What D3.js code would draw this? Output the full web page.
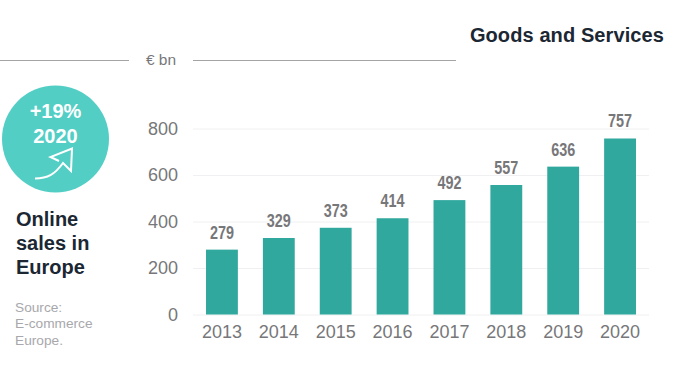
<!DOCTYPE html>
<html>
<head>
<meta charset="utf-8">
<script src="https://cdn.jsdelivr.net/npm/d3@7"></script>
<style>
  html, body { margin: 0; padding: 0; background: #fff; }
  text { font-family: "Liberation Sans", Arial, sans-serif; }
</style>
</head>
<body>
<div id="chart"></div>
<script>
// Data
const years = ["2013", "2014", "2015", "2016", "2017", "2018", "2019", "2020"];
const sales = [279, 329, 373, 414, 492, 557, 636, 757];
const yTicks = [0, 200, 400, 600, 800];
const titleLines = ["Online", "sales in", "Europe"];
const sourceLines = ["Source:", "E-commerce", "Europe."];
const badgeLines = ["+19%", "2020"];

const width = 673;
const height = 368;

const svg = d3.select("#chart")
    .append("svg")
    .attr("width", width)
    .attr("height", height)
    .style("display", "block");

// Scales
const x = d3.scaleBand()
    .domain(years)
    .range([193.5, 648.5])
    .paddingInner(0.44)
    .paddingOuter(0.22);

const y = d3.scaleLinear()
    .domain([0, 800])
    .range([314.5, 128.5]);

// Header
svg.append("text")
    .attr("x", 664)
    .attr("y", 42)
    .attr("text-anchor", "end")
    .attr("font-size", 20)
    .attr("font-weight", "bold")
    .attr("letter-spacing", 0.1)
    .attr("fill", "#1b2733")
    .text("Goods and Services");

svg.append("line")
    .attr("x1", 0).attr("x2", 129)
    .attr("y1", 60.5).attr("y2", 60.5)
    .attr("stroke", "#a3a3a3");

svg.append("line")
    .attr("x1", 193).attr("x2", 456)
    .attr("y1", 60.5).attr("y2", 60.5)
    .attr("stroke", "#a3a3a3");

svg.append("text")
    .attr("x", 161)
    .attr("y", 65)
    .attr("text-anchor", "middle")
    .attr("font-size", 15.5)
    .attr("fill", "#77777a")
    .text("€ bn");

// Gridlines and axes
const yAxis = svg.append("g")
    .attr("transform", "translate(193,0)")
    .call(d3.axisLeft(y).tickValues(yTicks).tickSize(-456).tickPadding(15).tickFormat(d3.format("d")));
yAxis.select(".domain").remove();
yAxis.selectAll("line").attr("stroke", "#f0f0f2");
yAxis.selectAll("text")
    .attr("font-size", 18)
    .attr("font-family", "Liberation Sans")
    .attr("fill", "#77777a");

const xAxis = svg.append("g")
    .attr("transform", "translate(0,314.5)")
    .call(d3.axisBottom(x).tickSize(0).tickPadding(11));
xAxis.select(".domain").remove();
xAxis.selectAll("text")
    .attr("font-size", 18)
    .attr("font-family", "Liberation Sans")
    .attr("fill", "#77777a");

// Bars
svg.selectAll("rect.bar")
    .data(years)
    .enter()
    .append("rect")
    .attr("class", "bar")
    .attr("x", d => x(d))
    .attr("y", (d, i) => y(sales[i]))
    .attr("width", x.bandwidth())
    .attr("height", (d, i) => y(0) - y(sales[i]))
    .attr("fill", "#31a89e");

// Value labels, squeezed because the original face is condensed
svg.selectAll("text.value")
    .data(years)
    .enter()
    .append("text")
    .attr("class", "value")
    .attr("x", d => x(d) + x.bandwidth() / 2)
    .attr("y", (d, i) => y(sales[i]) - 11)
    .attr("text-anchor", "middle")
    .attr("font-size", 18)
    .attr("font-weight", "bold")
    .attr("textLength", 24)
    .attr("lengthAdjust", "spacingAndGlyphs")
    .attr("fill", "#77777a")
    .text((d, i) => sales[i]);

// Badge
svg.append("circle")
    .attr("cx", 55.5)
    .attr("cy", 139)
    .attr("r", 53.5)
    .attr("fill", "#52cec5");

svg.selectAll("text.badge")
    .data(badgeLines)
    .enter()
    .append("text")
    .attr("class", "badge")
    .attr("x", 55.5)
    .attr("y", (d, i) => 118 + i * 25)
    .attr("text-anchor", "middle")
    .attr("font-size", 20)
    .attr("font-weight", "bold")
    .attr("fill", "#fff")
    .text(d => d);

svg.append("path")
    .attr("d", "M35 178.5 C48 178.5 55 174 63 163 L71 171 L72 148.5 L50.5 157 L59 161")
    .attr("fill", "none")
    .attr("stroke", "#fff")
    .attr("stroke-width", 2);

// Title and source
svg.selectAll("text.title")
    .data(titleLines)
    .enter()
    .append("text")
    .attr("class", "title")
    .attr("x", 16)
    .attr("y", (d, i) => 226 + i * 24)
    .attr("font-size", 20)
    .attr("font-weight", "bold")
    .attr("fill", "#1b2733")
    .text(d => d);

svg.selectAll("text.source")
    .data(sourceLines)
    .enter()
    .append("text")
    .attr("class", "source")
    .attr("x", 15)
    .attr("y", (d, i) => 312 + i * 16.3)
    .attr("font-size", 13.7)
    .attr("fill", "#a8a8ac")
    .text(d => d);
</script>
</body>
</html>
